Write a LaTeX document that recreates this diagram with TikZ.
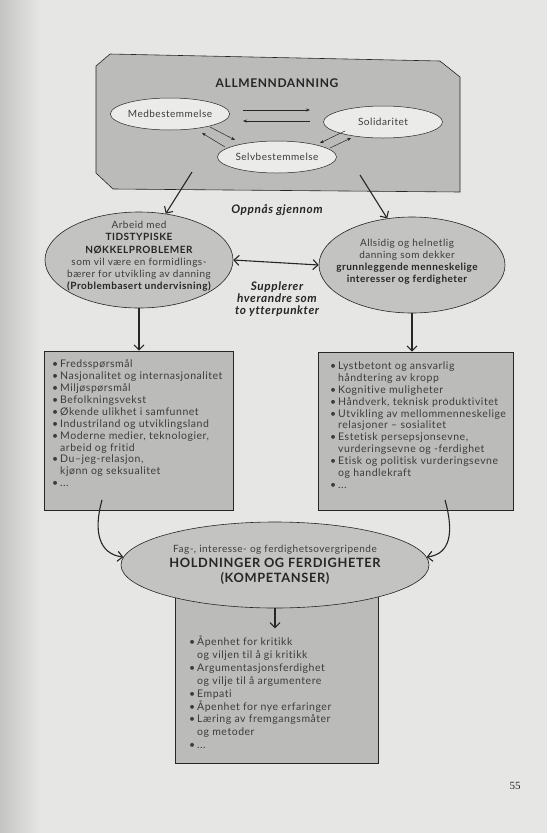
\documentclass[tikz,border=0pt]{standalone}
\usepackage{fontspec}
\setmainfont{Lato}[LetterSpace=5,RawFeature={-liga;-dlig;-clig}]
\newfontfamily\pageserif{Liberation Serif}
\usetikzlibrary{arrows.meta,shapes.geometric}
\definecolor{pagebg}{HTML}{E6E6E4}
\definecolor{pageedge}{HTML}{C4C4C2}
\definecolor{boxfill}{HTML}{BBBBBA}
\definecolor{ellfill}{HTML}{C3C3C2}
\definecolor{lightell}{HTML}{EBEBEA}
\definecolor{ink}{HTML}{262626}
\definecolor{softink}{HTML}{3C3C3C}
\newcommand{\itm}{\makebox[8pt][l]{\textbullet}}
\newcommand{\cnt}{\hspace*{8pt}}
\begin{document}
\begin{tikzpicture}[x=1pt,y=-1pt,
  bigarrow/.style={draw=ink,line width=1.1pt,-{Straight Barb[length=5pt,width=10pt]}},
  smallarrow/.style={draw=ink,line width=0.5pt,-{Stealth[length=4pt,width=3pt]}},
  greybox/.style={draw=ink,line width=0.6pt,fill=boxfill},
  bigell/.style={ellipse,draw=ink,line width=0.6pt,fill=ellfill,inner sep=0pt},
  smallell/.style={ellipse,draw=ink,line width=0.5pt,fill=lightell,inner sep=0pt,minimum width=119pt,minimum height=32pt,font=\fontsize{10}{12}\selectfont,text=softink},
  listtext/.style={anchor=north west,inner sep=0pt,align=left,font=\fontsize{10.5}{11.95}\selectfont,text=softink},
  elltext/.style={inner sep=0pt,align=center,font=\fontsize{10}{12.2}\selectfont,text=softink},
  label/.style={inner sep=0pt,align=center,font=\fontsize{11.8}{11.6}\selectfont\bfseries\itshape,text=ink}
]
\useasboundingbox (0,0) rectangle (547,833);
\fill[pagebg] (0,0) rectangle (547,833);
\shade[left color=pageedge,right color=pagebg] (0,0) rectangle (40,833);

% top box
\draw[greybox] (110,54) -- (440,61) -- (460,77) -- (460,192) -- (113,189) -- (96,173) -- (96,66) -- cycle;
\node[inner sep=0pt,font=\fontsize{12}{14}\selectfont\bfseries,text=ink] (allm) at (277,83) {ALLMENNDANNING};
\node[smallell] (med) at (170,114) {Medbestemmelse};
\node[smallell] (sol) at (383,122) {Solidaritet};
\node[smallell] (selv) at (277,157) {Selvbestemmelse};

\coordinate (ms1) at (243,110); \coordinate (ms2) at (310,110);
\coordinate (sm1) at (310,121); \coordinate (sm2) at (243,121);
\draw[smallarrow] (ms1) -- (ms2);
\draw[smallarrow] (sm1) -- (sm2);
\coordinate (mv1) at (210,127); \coordinate (mv2) at (235,140);
\coordinate (vm1) at (225,147); \coordinate (vm2) at (202,133);
\draw[smallarrow] (mv1) -- (mv2);
\draw[smallarrow] (vm1) -- (vm2);
\coordinate (sv1) at (345,131); \coordinate (sv2) at (320,143);
\coordinate (vs1) at (330,148); \coordinate (vs2) at (351,138);
\draw[smallarrow] (sv1) -- (sv2);
\draw[smallarrow] (vs1) -- (vs2);

% middle ellipses
\node[bigell,minimum width=188pt,minimum height=96pt] (lell) at (139,260) {};
\node[elltext] (ltxt) at (139,256.5) {Arbeid med\\
{\bfseries\color{ink}TIDSTYPISKE}\\
{\bfseries\color{ink}NØKKELPROBLEMER}\\
som vil være en formidlings-\\
bærer for utvikling av danning\\
{\bfseries\color{ink}(Problembasert undervisning)}};
\node[bigell,minimum width=186pt,minimum height=96pt] (rell) at (412,265) {};
\node[elltext,font=\fontsize{10}{12}\selectfont] (rtxt) at (407,261.5) {Allsidig og helnetlig\\
danning som dekker\\
{\bfseries\color{ink}grunnleggende menneskelige}\\
{\bfseries\color{ink}interesser og ferdigheter}};

\coordinate (tl) at (192,172);
\coordinate (tr) at (360,175);
\draw[bigarrow] (tl) -- (lell.60);
\draw[bigarrow] (tr) -- (rell.118);

\node[label] (opp) at (277,210) {Oppnås gjennom};
\draw[draw=ink,line width=1.1pt,{Straight Barb[length=5pt,width=10pt]}-{Straight Barb[length=5pt,width=10pt]}] (lell.east) -- (rell.west);
\node[label] (supp) at (277,299) {Supplerer\\hverandre som\\to ytterpunkter};

% list boxes
\node[greybox,minimum width=189pt,minimum height=159pt,inner sep=0pt] (lbox) at (138.5,430.5) {};
\node[greybox,minimum width=195pt,minimum height=158pt,inner sep=0pt] (rbox) at (415.5,431) {};
\draw[bigarrow] (lell.south) -- (lell.south |- lbox.north);
\draw[bigarrow] (rell.south) -- (rell.south |- rbox.north);

\node[listtext] (ltext) at (52,359.3) {\itm Fredsspørsmål\\
\itm Nasjonalitet og internasjonalitet\\
\itm Miljøspørsmål\\
\itm Befolkningsvekst\\
\itm Økende ulikhet i samfunnet\\
\itm Industriland og utviklingsland\\
\itm Moderne medier, teknologier,\\
\cnt arbeid og fritid\\
\itm Du–jeg-relasjon,\\
\cnt kjønn og seksualitet\\
\itm ...};

\node[listtext] (rtext) at (330,361.3) {\itm Lystbetont og ansvarlig\\
\cnt håndtering av kropp\\
\itm Kognitive muligheter\\
\itm Håndverk, teknisk produktivitet\\
\itm Utvikling av mellommenneskelige\\
\cnt relasjoner – sosialitet\\
\itm Estetisk persepsjonsevne,\\
\cnt vurderingsevne og -ferdighet\\
\itm Etisk og politisk vurderingsevne\\
\cnt og handlekraft\\
\itm ...};

% bottom
\node[greybox,minimum width=203pt,minimum height=173pt,inner sep=0pt] (bbox) at (276.5,676.5) {};
\node[bigell,minimum width=308pt,minimum height=86pt] (bell) at (275,565) {};
\node[elltext] (btxt1) at (275,549.5) {Fag-, interesse- og ferdighetsovergripende};
\node[inner sep=0pt,align=center,font=\fontsize{12.8}{15}\selectfont\bfseries,text=ink] (btxt2) at (275,571) {HOLDNINGER OG FERDIGHETER\\(KOMPETANSER)};

\coordinate (lc) at (102,500);
\coordinate (rc) at (445,500);
\draw[bigarrow] (lc) .. controls +(-9,32) and +(-24,-3) .. (bell.177);
\draw[bigarrow] (rc) .. controls +(9,32) and +(24,-3) .. (bell.3);
\draw[bigarrow] (bell.south) -- ++(0,20) coordinate (bend);

\node[listtext,font=\fontsize{10.5}{12.9}\selectfont] (btext) at (189,635.5) {\itm Åpenhet for kritikk\\
\cnt og viljen til å gi kritikk\\
\itm Argumentasjonsferdighet\\
\cnt og vilje til å argumentere\\
\itm Empati\\
\itm Åpenhet for nye erfaringer\\
\itm Læring av fremgangsmåter\\
\cnt og metoder\\
\itm ...};

\node[inner sep=0pt,font=\pageserif\fontsize{11}{13}\selectfont,text=ink] (page) at (515,786) {55};
\end{tikzpicture}
\end{document}
